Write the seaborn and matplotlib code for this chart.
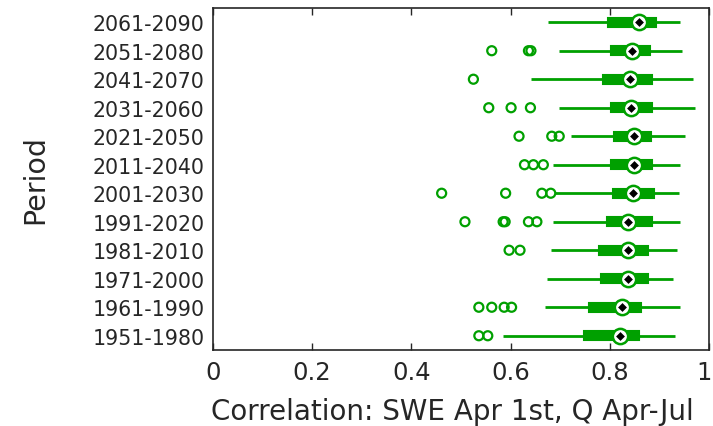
import pandas as pd
import matplotlib
matplotlib.use("Agg")
import matplotlib.pyplot as plt
from matplotlib.ticker import FuncFormatter
from matplotlib.transforms import ScaledTranslation
import seaborn as sns

# periods, top row first
periods = ["2061-2090", "2051-2080", "2041-2070", "2031-2060", "2021-2050", "2011-2040",
           "2001-2030", "1991-2020", "1981-2010", "1971-2000", "1961-1990", "1951-1980"]

# box statistics
whisker_lo = [0.676, 0.698, 0.641, 0.698, 0.722, 0.686, 0.690, 0.686, 0.681, 0.674, 0.669, 0.585]
q1 = [0.797, 0.802, 0.786, 0.802, 0.809, 0.802, 0.806, 0.794, 0.778, 0.783, 0.758, 0.747]
median = [0.858, 0.844, 0.840, 0.843, 0.849, 0.849, 0.846, 0.836, 0.836, 0.836, 0.824, 0.821]
q3 = [0.893, 0.881, 0.886, 0.886, 0.883, 0.886, 0.890, 0.886, 0.878, 0.878, 0.863, 0.858]
whisker_hi = [0.941, 0.945, 0.968, 0.971, 0.951, 0.942, 0.939, 0.942, 0.935, 0.927, 0.942, 0.931]

# outliers per period
outliers = [
    [],
    [0.562, 0.636, 0.641],
    [0.525],
    [0.556, 0.601, 0.640],
    [0.617, 0.683, 0.698],
    [0.628, 0.646, 0.666],
    [0.461, 0.590, 0.663, 0.681],
    [0.508, 0.585, 0.589, 0.636, 0.653],
    [0.597, 0.619],
    [],
    [0.536, 0.562, 0.587, 0.602],
    [0.536, 0.554],
]

green = "#00a000"

# five-number data for each box (whiskers span min..max)
rows = []
for i, p in enumerate(periods):
    for v in [whisker_lo[i], q1[i], median[i], q3[i], whisker_hi[i]]:
        rows.append({"period": p, "value": v})
box_df = pd.DataFrame(rows)

out_df = pd.DataFrame([{"period": p, "value": v}
                       for p, vals in zip(periods, outliers) for v in vals])
med_df = pd.DataFrame({"period": periods, "value": median})

sns.set_theme(style="ticks")
plt.rcParams["font.family"] = ["DejaVu Sans"]

fig = plt.figure(figsize=(7.13, 4.27), dpi=100)
ax = fig.add_axes([0.2987, 0.178, 0.6957, 0.801])

sns.boxplot(data=box_df, x="value", y="period", order=periods, orient="h",
            whis=(0, 100), width=0.32, color=green, linecolor=green, saturation=1,
            showfliers=False, showcaps=False, linewidth=1.5,
            medianprops={"linewidth": 0},
            whiskerprops={"linewidth": 2}, ax=ax)

n_before = len(ax.collections)
sns.stripplot(data=out_df, x="value", y="period", order=periods, orient="h",
              jitter=False, size=6.5, color=green, edgecolor=green, linewidth=1.6, ax=ax)
for coll in ax.collections[n_before:]:
    coll.set_facecolor("none")

sns.stripplot(data=med_df, x="value", y="period", order=periods, orient="h",
              jitter=False, size=11, color="white", edgecolor=green, linewidth=1.8,
              zorder=4, ax=ax)
sns.stripplot(data=med_df, x="value", y="period", order=periods, orient="h",
              jitter=False, size=4.5, marker="D", color="black", linewidth=0,
              zorder=5, ax=ax)

ax.set_xlim(0, 1)
ax.set_ylim(11.5, -0.5)
ax.set_xticks([0, 0.2, 0.4, 0.6, 0.8, 1.0])
ax.xaxis.set_major_formatter(FuncFormatter(lambda v, pos: "%g" % v))
ax.tick_params(axis="x", direction="in", top=True, length=5, width=1,
               labelsize=17.5, pad=7, color="#262626", labelcolor="#262626")
ax.tick_params(axis="y", length=0, labelsize=14.8, pad=6, labelcolor="#262626")
for s in ax.spines.values():
    s.set_visible(True)
    s.set_color("#262626")
    s.set_linewidth(1.2)

# keep the "1" label inside the figure edge
last = ax.get_xticklabels()[-1]
last.set_transform(last.get_transform() + ScaledTranslation(-5 / 100, 0, fig.dpi_scale_trans))

ax.set_xlabel("Correlation: SWE Apr 1st, Q Apr-Jul", fontsize=20, color="#262626")
ax.set_ylabel("Period", fontsize=20.5, color="#262626")
ax.xaxis.set_label_coords(0.483, -0.136)
ax.yaxis.set_label_coords(-0.33, 0.5)

fig.savefig("out.png", dpi=100)
